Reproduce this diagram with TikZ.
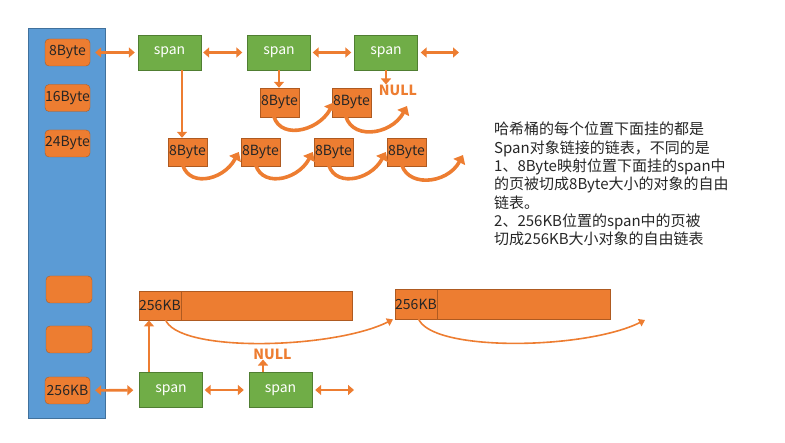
\documentclass[tikz,border=0pt]{standalone}
\usepackage{fontspec}
\setmainfont{Noto Sans CJK SC}
\usepackage{xcolor}
\definecolor{bucketblue}{RGB}{91,155,213}
\definecolor{bucketedge}{RGB}{65,113,156}
\definecolor{objorange}{RGB}{237,125,49}
\definecolor{objedge}{RGB}{174,90,33}
\definecolor{spangreen}{RGB}{112,173,71}
\definecolor{spanedge}{RGB}{80,126,50}
\definecolor{inktext}{RGB}{38,38,38}
\usepackage{tikz}
\usetikzlibrary{arrows.meta, calc}

\begin{document}
\begin{tikzpicture}[x=1pt, y=-1pt,
    slot/.style={draw=objedge, fill=objorange, rounded corners=4pt, minimum width=45pt, minimum height=27pt, inner sep=0pt, text=inktext, font=\fontsize{14}{16}\selectfont},
    spanbox/.style={draw=spanedge, fill=spangreen, minimum width=63pt, minimum height=35pt, inner sep=0pt, text=white, font=\fontsize{14}{16}\selectfont},
    obj/.style={draw=objedge, fill=objorange, minimum width=39pt, minimum height=29pt, inner sep=0pt, text=inktext, font=\fontsize{14}{16}\selectfont},
    dlink/.style={objorange, line width=2.6pt, {Triangle[length=6pt,width=10pt]}-{Triangle[length=6pt,width=10pt]}},
    link/.style={objorange, line width=2.6pt, -{Triangle[length=6pt,width=10pt]}},
    hop/.style={objorange, line width=3.6pt, -{Triangle[length=8pt,width=13pt]}},
    longhop/.style={objorange, line width=1.6pt, -{Triangle[length=6pt,width=8pt]}},
    nullmark/.style={text=objorange, font=\fontsize{14}{16}\selectfont\bfseries, inner sep=0pt}]
    \useasboundingbox (0,0) rectangle (785,443);

    \node[draw=bucketedge, fill=bucketblue, minimum width=77pt, minimum height=390pt, inner sep=0pt, anchor=north west] (bucket) at (28,28) {};
    \node[slot] (b8) at (67.5,52.5) {8Byte};
    \node[slot] (b16) at (67.5,98) {16Byte};
    \node[slot] (b24) at (67.5,143.5) {24Byte};
    \node[slot, minimum width=46pt] (e1) at (69,289.5) {};
    \node[slot, minimum width=46pt] (e2) at (69,339.5) {};
    \node[slot] (b256) at (67.5,390.5) {256KB};

    \begin{scope}
        \node[spanbox] (s1) at (169.5,52.5) {span};
        \node[spanbox] (s2) at (279,52.5) {span};
        \node[spanbox] (s3) at (386,52.5) {span};
        \coordinate (s3end) at (459,52.5);
        \draw[dlink, shorten <=5pt, shorten >=3pt] (b8) -- (s1);
        \draw[dlink, shorten <=2pt, shorten >=5pt] (s1) -- (s2);
        \draw[dlink, shorten <=2pt, shorten >=3pt] (s2) -- (s3);
        \draw[dlink, shorten <=3pt] (s3) -- (s3end);

        \node[obj] (a1) at (279.5,102.5) {8Byte};
        \node[obj] (a2) at (351.5,102.5) {8Byte};
        \node[nullmark] (n1) at (398,90) {NULL};
        \coordinate (a2end) at (407,106);

        \node[obj, minimum height=28pt] (c1) at (187.5,152) {8Byte};
        \node[obj, minimum height=28pt] (c2) at (260.5,152) {8Byte};
        \node[obj, minimum height=28pt] (c3) at (333.5,152) {8Byte};
        \node[obj, minimum height=28pt] (c4) at (406.5,152) {8Byte};
        \coordinate (c4end) at (463,155);

        \coordinate (s1drop) at ($(s1.south)+(12.5,0)$);
        \draw[link] (s1drop) -- (s1drop |- c1.north);
        \draw[link] (s2.south) -- (s2.south |- a1.north);
        \draw[link] (s3.south) -- (s3.south |- n1.north);

        \draw[hop] ([xshift=13pt, yshift=6pt]a1.south west) .. controls +(3,30) and +(-16,30) .. ([xshift=2pt]a2.west);
        \draw[hop] ([xshift=13pt, yshift=6pt]a2.south west) .. controls +(3,30) and +(-16,30) .. (a2end);
        \draw[hop] ([xshift=14pt, yshift=6pt]c1.south west) .. controls +(3,28) and +(-16,30) .. ([xshift=-2pt]c2.west);
        \draw[hop] ([xshift=14pt, yshift=6pt]c2.south west) .. controls +(3,28) and +(-16,30) .. ([xshift=-1pt]c3.west);
        \draw[hop] ([xshift=14pt, yshift=6pt]c3.south west) .. controls +(3,28) and +(-16,30) .. ([xshift=-1pt]c4.west);
        \draw[hop] ([xshift=14pt, yshift=6pt]c4.south west) .. controls +(3,28) and +(-16,30) .. (c4end);
    \end{scope}

    \node[anchor=north west, align=left, inner sep=0pt, text=inktext, font=\fontsize{15}{18.3}\selectfont] (note) at (494,122) {哈希桶的每个位置下面挂的都是\\Span对象链接的链表，不同的是\\1、8Byte映射位置下面挂的span中\\的页被切成8Byte大小的对象的自由\\链表。\\2、256KB位置的span中的页被\\切成256KB大小对象的自由链表};

    \begin{scope}
        \node[obj, minimum width=213pt, anchor=north west] (bar1) at (139,291) {};
        \node[obj, anchor=north west] (k1) at (bar1.north west) {256KB};
        \node[obj, minimum width=215pt, minimum height=30pt, anchor=north west] (bar2) at (395,289) {};
        \node[obj, minimum height=30pt, anchor=north west] (k2) at (bar2.north west) {256KB};
        \coordinate (bar2end) at (645,320);

        \node[spanbox] (t1) at (171,390) {span};
        \node[spanbox] (t2) at (280.5,390) {span};
        \coordinate (t2end) at (354,390);
        \node[nullmark] (n2) at (272.5,354) {NULL};

        \draw[dlink, shorten <=5pt, shorten >=6pt] (b256) -- (t1);
        \draw[dlink, shorten <=2pt, shorten >=5pt] (t1) -- (t2);
        \draw[dlink, shorten <=3pt] (t2) -- (t2end);

        \coordinate (t1rise) at ($(t1.north)+(-22,0)$);
        \draw[link, line width=2pt] (t1rise) -- (t1rise |- bar1.south);
        \coordinate (t2rise) at ($(t2.north)+(-17.5,0)$);
        \draw[link, line width=2pt] (t2rise) -- (t2rise |- n2.south);

        \draw[longhop] ($(bar1.south west)+(26,-2)$) .. controls +(10,35) and +(-60,30) .. ([xshift=-2pt]bar2.south west);
        \draw[longhop] ($(bar2.south west)+(23,-2)$) .. controls +(10,35) and +(-60,30) .. (bar2end);
    \end{scope}
\end{tikzpicture}
\end{document}
